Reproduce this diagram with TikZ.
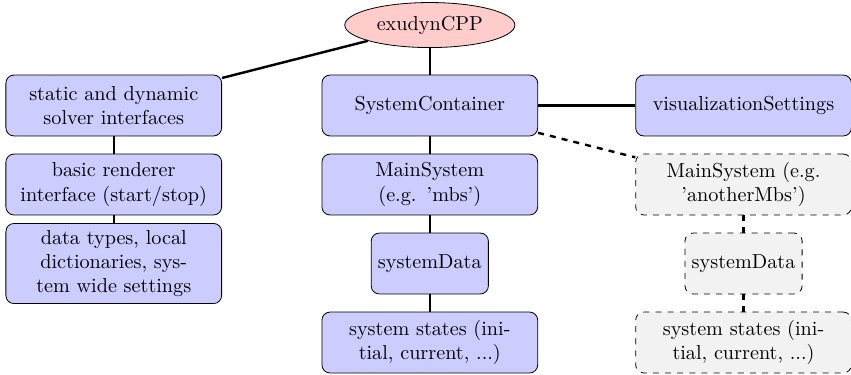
\documentclass[tikz,border=0pt]{standalone}
\usepackage{tikz}
\usetikzlibrary{positioning}
\usetikzlibrary{shapes.geometric}

\begin{document}
\begin{tikzpicture}[node distance = 1.375cm, auto]
    \tikzstyle{block} = [rectangle, draw, fill=blue!20, 
    text width=3.52cm, text centered, rounded corners, minimum height=1.06cm]
    \tikzstyle{datablock} = [rectangle, draw, fill=blue!20, 
    rounded corners, minimum height=1.06cm]
    \tikzstyle{otherblock} = [block, dashed, fill=gray!10]
    \tikzstyle{otherdata} = [datablock, dashed, fill=gray!10]
    \tikzstyle{line} = [draw, very thick]
    \tikzstyle{cloud} = [draw, ellipse, fill=red!20, 
    minimum width=2.96cm, minimum height=0.75cm]
    \useasboundingbox (-7.48,-4.69) rectangle (7.33,1.836);
    \node [block] (container) {SystemContainer};
    \node [cloud, above of=container, node distance=1.4cm] (exudyn) {exudynCPP};
    \node [block, left of=container, node distance=5.5cm] (solver)
    {static and dynamic solver interfaces};
    \node [block, below of=solver] (renderer) {basic renderer interface (start/stop)};
    \node [block, below of=renderer] (datatypes)
    {data types, local dictionaries, system wide settings};
    \node [block, right of=container, node distance=5.46cm] (visual) {visualizationSettings};
    \node [block, below of=container] (mainsys) {MainSystem (e.g. 'mbs')};
    \node [datablock, below of=mainsys] (sysdata) {systemData};
    \node [block, below of=sysdata] (states) {system states (initial, current, ...)};
    \node [otherblock, below of=visual] (othersys) {MainSystem (e.g. 'anotherMbs')};
    \node [otherdata, below of=othersys] (otherdata) {systemData};
    \node [otherblock, below of=otherdata] (otherstates)
    {system states (initial, current, ...)};
    \path [line] (exudyn) -- (solver);
    \path [line] (exudyn) -- (container);
    \path [line] (solver) -- (renderer);
    \path [line] (renderer) -- (datatypes);
    \path [line] (container) -- (visual);
    \path [line] (container) -- (mainsys);
    \path [line] (mainsys) -- (sysdata);
    \path [line] (sysdata) -- (states);
    \path [line, dashed] (container) -- (othersys);
    \path [line, dashed] (othersys) -- (otherdata);
    \path [line, dashed] (otherdata) -- (otherstates);
\end{tikzpicture}
\end{document}
